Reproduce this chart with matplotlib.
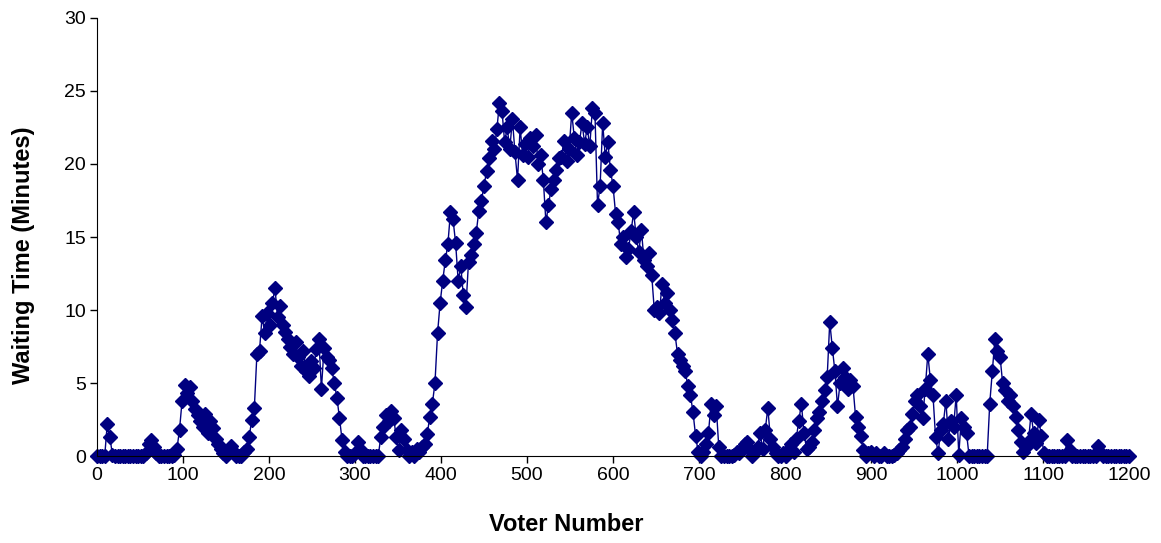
import matplotlib
matplotlib.use('Agg')
import matplotlib.pyplot as plt
import numpy as np

# voter number (every 3rd voter)
voters = np.arange(0, 1201, 3)

# waiting time in minutes
wait = [
    0, 0, 0, 0, 2.2, 1.3, 0.1, 0, 0, 0,
    0, 0, 0, 0, 0, 0, 0, 0, 0, 0.2,
    0.8, 1.1, 0.6, 0.2, 0, 0, 0, 0, 0, 0,
    0.1, 0.5, 1.8, 3.8, 4.9, 4.3, 4.7, 3.8, 3.2, 2.8,
    2.4, 2.0, 2.9, 1.6, 2.4, 1.9, 1.2, 0.8, 0.5, 0.2,
    0, 0.4, 0.7, 0.3, 0, 0, 0, 0.3, 0.5, 1.3,
    2.5, 3.3, 7.0, 7.2, 9.6, 8.4, 9.8, 9.0, 10.5, 11.5,
    9.5, 10.3, 9.0, 8.5, 8.0, 7.5, 7.0, 7.8, 6.8, 6.2,
    7.2, 5.8, 5.5, 6.5, 6.0, 7.3, 8.0, 4.6, 7.4, 6.8,
    6.6, 6.0, 5.0, 4.0, 2.6, 1.1, 0.3, 0, 0, 0,
    0.2, 1.0, 0.5, 0, 0, 0, 0, 0, 0, 0,
    1.3, 2.0, 2.8, 2.4, 3.1, 2.6, 1.3, 0.4, 1.8, 1.2,
    0.4, 0, 0.3, 0, 0.5, 0.3, 0.6, 0.8, 1.5, 2.7,
    3.6, 5.0, 8.4, 10.5, 12.0, 13.4, 14.5, 16.7, 16.2, 14.6,
    12.0, 13.0, 11.0, 10.2, 13.3, 13.8, 14.5, 15.3, 16.8, 17.5,
    18.5, 19.5, 20.4, 21.6, 21.0, 22.4, 24.2, 23.6, 21.5, 22.5,
    21.0, 23.1, 20.8, 18.9, 22.5, 20.6, 21.4, 20.5, 21.8, 21.2,
    22.0, 20.0, 20.6, 18.9, 16.0, 17.2, 18.3, 18.9, 19.6, 20.4,
    20.5, 21.6, 20.2, 21.0, 23.5, 21.8, 20.6, 21.5, 22.8, 21.4,
    22.5, 21.2, 23.8, 23.5, 17.2, 18.5, 22.8, 20.5, 21.5, 19.6,
    18.5, 16.6, 16.0, 14.5, 15.0, 13.6, 14.2, 15.4, 16.7, 15.0,
    14.0, 15.5, 13.4, 13.0, 13.9, 12.4, 10.0, 10.2, 9.8, 11.8,
    10.5, 11.2, 10.0, 9.3, 8.4, 7.0, 6.6, 6.2, 5.8, 4.8,
    4.2, 3.0, 1.4, 0.3, 0, 0.3, 0.8, 1.6, 3.6, 2.8,
    3.4, 0.6, 0, 0, 0, 0, 0, 0.1, 0.3, 0.2,
    0.5, 0.8, 1.0, 0.4, 0, 0.3, 0.6, 1.6, 0.5, 1.8,
    3.3, 1.2, 0.6, 0.2, 0, 0, 0.2, 0, 0.4, 0.8,
    0.3, 1.2, 2.4, 3.6, 1.6, 0.5, 0.6, 1.0, 1.8, 2.6,
    3.0, 3.8, 4.5, 5.4, 9.2, 7.4, 5.8, 3.4, 5.0, 6.0,
    5.4, 4.6, 5.2, 4.8, 2.7, 2.0, 1.4, 0.4, 0, 0.2,
    0.3, 0, 0.2, 0, 0, 0.2, 0, 0, 0, 0.1,
    0.2, 0.4, 0.6, 1.2, 1.8, 2.0, 2.9, 3.8, 4.2, 3.4,
    2.6, 4.6, 7.0, 5.2, 4.2, 1.3, 0.2, 1.8, 2.2, 3.8,
    1.2, 2.4, 2.0, 4.2, 0.1, 2.6, 2.0, 1.6, 0, 0,
    0, 0, 0, 0, 0, 0, 3.6, 5.8, 8.0, 7.2,
    6.8, 5.0, 4.5, 3.8, 4.2, 3.4, 2.7, 1.8, 1.0, 0.3,
    0.6, 1.0, 2.9, 1.6, 0.9, 2.5, 1.4, 0.2, 0, 0,
    0, 0, 0, 0, 0, 0, 1.1, 0.4, 0, 0,
    0, 0, 0, 0, 0, 0, 0, 0, 0.7, 0.2,
    0, 0, 0, 0, 0, 0, 0, 0, 0, 0,
    0,
]

plt.rcParams['font.family'] = ['Liberation Sans', 'DejaVu Sans']

fig = plt.figure(figsize=(11.61, 5.43), dpi=100)
ax = fig.add_axes([0.0835, 0.160, 0.889, 0.807])

ax.plot(voters, wait, color='#000080', lw=1, marker='D', ms=7.5,
        markeredgecolor='#000080', markerfacecolor='#000080', clip_on=False)

ax.set_xlim(0, 1200)
ax.set_ylim(0, 30)
ax.set_xticks(np.arange(0, 1201, 100))
ax.set_yticks(np.arange(0, 31, 5))
ax.tick_params(labelsize=14, direction='out', length=5, width=1, pad=3)
ax.spines['top'].set_visible(False)
ax.spines['right'].set_visible(False)

ax.set_xlabel('Voter Number', fontsize=17, fontweight='bold')
ax.set_ylabel('Waiting Time (Minutes)', fontsize=17, fontweight='bold')
ax.xaxis.set_label_coords(0.4545, -0.13)
ax.yaxis.set_label_coords(-0.06, 0.459)

fig.savefig('out.png', dpi=100)
